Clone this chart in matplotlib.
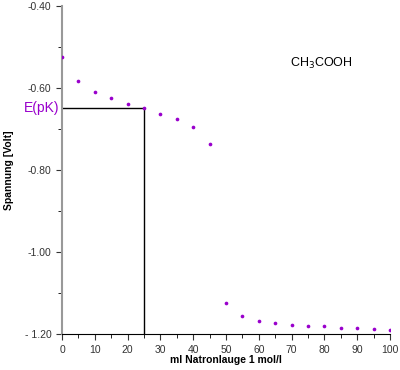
import matplotlib.pyplot as plt

# Titration: Essigsaeure mit Natronlauge
ml_naoh = [0, 5, 10, 15, 20, 25, 30, 35, 40, 45, 50,
           55, 60, 65, 70, 75, 80, 85, 90, 95, 100]
spannung = [-0.525, -0.584, -0.610, -0.625, -0.639, -0.650, -0.663,
            -0.676, -0.696, -0.736, -1.123, -1.157, -1.167, -1.173,
            -1.178, -1.181, -1.181, -1.184, -1.186, -1.187, -1.190]
y_ticks = [-0.40, -0.60, -0.80, -1.00, -1.20]
y_ticklabels = ['-0.40', '-0.60', '-0.80', '-1.00', '- 1.20']
x_ticks = [0, 10, 20, 30, 40, 50, 60, 70, 80, 90, 100]
pk_ml = 25
pk_volt = -0.650

plt.rcParams['font.family'] = ['Liberation Sans', 'DejaVu Sans']

fig = plt.figure(figsize=(4.0, 3.7), dpi=100)
ax = fig.add_axes([0.155, 0.097, 0.82, 0.887])

ax.scatter(ml_naoh, spannung, s=7, marker='o', color='#9900cc', linewidths=0, zorder=3)

# E(pK) Hilfslinien
ax.plot([0, pk_ml], [pk_volt, pk_volt], color='black', lw=1)
ax.plot([pk_ml, pk_ml], [pk_volt, -1.20], color='black', lw=1)
ax.text(-0.8, pk_volt, 'E(pK)', color='#9900cc', fontsize=10,
        ha='right', va='center')

ax.text(79, -0.54, 'CH$_3$COOH', fontsize=9, ha='center', va='center')

ax.set_xlim(0, 100)
ax.set_ylim(-1.20, -0.40)
ax.set_xticks(x_ticks)
ax.set_xticks(range(5, 100, 10), minor=True)
ax.set_yticks(y_ticks)
ax.set_yticklabels(y_ticklabels)
ax.set_yticks([-0.50, -0.70, -0.90, -1.10], minor=True)
ax.tick_params(labelsize=7.5, colors='#333333')
ax.tick_params(axis='both', which='major', length=4)
ax.tick_params(axis='both', which='minor', length=3)

ax.spines['top'].set_visible(False)
ax.spines['right'].set_visible(False)
ax.spines['left'].set_color('#999999')
ax.spines['left'].set_linewidth(1.5)
ax.spines['bottom'].set_color('black')

ax.set_xlabel('ml Natronlauge 1 mol/l', fontsize=7.5, fontweight='bold', labelpad=0)
ax.set_ylabel('Spannung [Volt]', fontsize=7.5, fontweight='bold', labelpad=8)

fig.savefig('out.png', dpi=100)
